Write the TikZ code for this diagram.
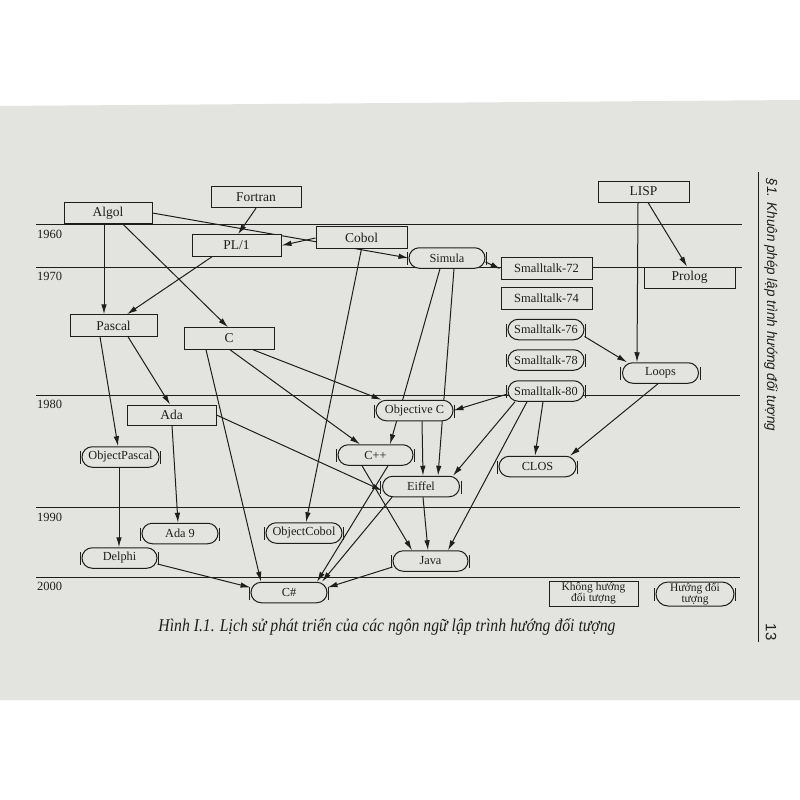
\documentclass[tikz,border=0pt]{standalone}
\usepackage{fontspec}
\setmainfont{Liberation Serif}
\newfontfamily\hsans{Liberation Sans}
\usepackage{graphicx}
\usetikzlibrary{shapes.misc,arrows.meta}
\definecolor{paper}{RGB}{227,227,224}
\definecolor{ink}{RGB}{30,30,30}
\pgfdeclarelayer{bg}\pgfdeclarelayer{edges}\pgfsetlayers{bg,edges,main}
\begin{document}
\begin{tikzpicture}[x=1pt,y=-1pt,
  rbox/.style={draw=ink, fill=paper, line width=1pt, minimum width=90pt, minimum height=21.5pt, inner sep=0pt, font=\fontsize{13.5}{15}\selectfont, text=ink},
  sbox/.style={rbox, font=\fontsize{12.5}{14}\selectfont},
  obox/.style={draw=ink, fill=paper, line width=1pt, rounded rectangle, minimum width=76pt, minimum height=20.5pt, inner sep=0pt, font=\fontsize{12.3}{14}\selectfont, text=ink},
  edge/.style={draw=ink, line width=1pt, -{Latex[length=10pt,width=5.5pt]}},
  tl/.style={draw=ink, line width=1pt},
  yr/.style={anchor=west, font=\fontsize{12.5}{14}\selectfont, text=ink, inner sep=0pt}]
\useasboundingbox (0,0) rectangle (800,800);
\begin{pgfonlayer}{bg}
  \fill[white] (0,0) rectangle (800,800);
  \fill[paper] (0,106) -- (800,100) -- (800,700) -- (0,700) -- cycle;
\end{pgfonlayer}

% timelines
\begin{pgfonlayer}{edges}
  \coordinate (t1a) at (36,224); \coordinate (t1b) at (742,224);
  \coordinate (t2a) at (36,267); \coordinate (t2b) at (742,267);
  \coordinate (t3a) at (36,395); \coordinate (t3b) at (740,395);
  \coordinate (t4a) at (36,507); \coordinate (t4b) at (740,507);
  \coordinate (t5a) at (36,577); \coordinate (t5b) at (740,577);
  \draw[tl] (t1a) -- (t1b);
  \draw[tl] (t2a) -- (t2b);
  \draw[tl] (t3a) -- (t3b);
  \draw[tl] (t4a) -- (t4b);
  \draw[tl] (t5a) -- (t5b);
\end{pgfonlayer}
\node[yr] (y60) at (37,234) {1960};
\node[yr] (y70) at (37,276) {1970};
\node[yr] (y80) at (37,404) {1980};
\node[yr] (y90) at (37,517) {1990};
\node[yr] (y00) at (37,586) {2000};

% rectangular nodes
\node[rbox, minimum width=88pt] (Algol) at (108,213) {Algol};
\node[rbox] (Fortran) at (256,197) {Fortran};
\node[rbox, minimum width=89pt] (PL1) at (236.5,245.5) {PL/1};
\node[rbox, minimum width=91pt] (Cobol) at (361.5,237.5) {Cobol};
\node[rbox, minimum width=87pt] (Pascal) at (113.5,325.5) {Pascal};
\node[rbox] (C) at (229,338.5) {C};
\node[rbox, minimum width=89pt, minimum height=20pt] (Ada) at (171.5,415) {Ada};
\node[rbox, minimum width=91pt, minimum height=21pt] (LISP) at (643.5,191.5) {LISP};
\node[rbox, minimum width=91pt, minimum height=21pt] (Prolog) at (689.5,277.5) {Prolog};
\node[sbox, minimum width=91pt, minimum height=22pt] (ST72) at (546.5,268) {Smalltalk-72};
\node[sbox, minimum width=91pt, minimum height=22pt] (ST74) at (546.5,298) {Smalltalk-74};

% object-oriented nodes
\node[obox] (Simula) at (447,258) {Simula};
\node[obox] (ST76) at (546,329.5) {Smalltalk-76};
\node[obox] (ST78) at (546,360) {Smalltalk-78};
\node[obox] (ST80) at (546,391) {Smalltalk-80};
\node[obox] (Loops) at (660.5,373) {Loops};
\node[obox, minimum width=77pt] (ObjC) at (414.5,410.5) {Objective C};
\node[obox, minimum width=75pt] (CPP) at (375.5,455) {C++};
\node[obox, minimum width=77pt] (Eiffel) at (421,486.5) {Eiffel};
\node[obox, minimum width=77pt] (CLOS) at (537.5,466.5) {CLOS};
\node[obox, minimum width=77pt] (OPascal) at (120.5,457) {ObjectPascal};
\node[obox] (Ada9) at (180,533.5) {Ada 9};
\node[obox] (OCobol) at (304,533) {ObjectCobol};
\node[obox, minimum width=75pt] (Delphi) at (119.5,558) {Delphi};
\node[obox, minimum width=75pt] (Java) at (430.5,561) {Java};
\node[obox] (CSharp) at (289,592.5) {C\#};

% legend
\node[rbox, minimum width=89pt, minimum height=25pt, align=center, font=\fontsize{11.5}{11}\selectfont] (legR) at (593.5,593.5) {Không hướng\\đối tượng};
\node[obox, minimum width=78pt, minimum height=24pt, align=center, font=\fontsize{11.5}{11}\selectfont] (legO) at (695,594) {Hướng đối\\tượng};

% ticks on object-oriented nodes
\foreach \n in {Simula,ST76,ST78,ST80,Loops,ObjC,CPP,Eiffel,CLOS,OPascal,Ada9,OCobol,Delphi,Java,CSharp,legO}{
  \draw[ink, line width=1pt] ([xshift=-1.2pt,yshift=6pt]\n.west) -- ++(0,13);
  \draw[ink, line width=1pt] ([xshift=1.2pt,yshift=6pt]\n.east) -- ++(0,13);
}

% connectors
\begin{pgfonlayer}{edges}
  \draw[edge] (Fortran.south) -- ([xshift=1.5pt]PL1.north);
  \draw[edge] (Algol.east) -- (Simula.west);
  \draw[edge] ([xshift=-4pt]Algol.south) -- ([xshift=-9.5pt]Pascal.north);
  \draw[edge] ([xshift=15pt]Algol.south) -- ([xshift=-1pt]C.north);
  \draw[edge] ([xshift=-24.5pt]PL1.south) -- ([xshift=13.5pt]Pascal.north);
  \draw[edge] ([yshift=-0.5pt]Cobol.west) -- (PL1.east);
  \draw[edge] (Cobol.south) -- ([xshift=2pt]OCobol.north);
  \draw[edge] ([xshift=-13.5pt]Pascal.south) -- ([xshift=-2.5pt]OPascal.north);
  \draw[edge] ([xshift=14.5pt]Pascal.south) -- ([xshift=-1.5pt]Ada.north);
  \draw[edge] ([xshift=-23pt]C.south) -- ([xshift=-28pt]CSharp.north);
  \draw[edge] ([xshift=1pt]C.south) -- ([xshift=-15.5pt]CPP.north);
  \draw[edge] ([xshift=24pt]C.south) -- ([xshift=-33pt]ObjC.north);
  \draw[edge] ([xshift=-7pt]Simula.south) -- ([xshift=14.5pt]CPP.north);
  \draw[edge] ([xshift=7pt]Simula.south) -- ([xshift=17pt]Eiffel.north);
  \draw[edge] ([xshift=7.5pt]ObjC.south) -- ([xshift=2pt]Eiffel.north);
  \draw[edge] ([yshift=-3pt]ST80.west) -- (ObjC.east);
  \draw[edge] ([xshift=-31pt]ST80.south) -- ([xshift=32pt]Eiffel.north);
  \draw[edge] ([xshift=-19pt]ST80.south) -- ([xshift=17.5pt]Java.north);
  \draw[edge] ([xshift=-3pt]ST80.south) -- ([xshift=-2.5pt]CLOS.north);
  \draw[edge] ([xshift=-2.5pt]Loops.south) -- ([xshift=32.5pt]CLOS.north);
  \draw[edge] ([yshift=-7pt]ST76.east) -- ([xshift=-33.5pt]Loops.north);
  \draw[edge] ([xshift=-5.5pt]LISP.south) -- ([xshift=-23.5pt]Loops.north);
  \draw[edge] ([xshift=4.5pt]LISP.south) -- ([xshift=-2.5pt]Prolog.north);
  \draw[edge] ([yshift=-4pt]Simula.east) -- ([yshift=-1pt]ST72.west);
  \draw[edge] (Ada.east) -- ([yshift=-4pt]Eiffel.west);
  \draw[edge] ([xshift=0.5pt]Ada.south) -- ([xshift=-2pt]Ada9.north);
  \draw[edge] ([xshift=-1.5pt]OPascal.south) -- ([xshift=-0.5pt]Delphi.north);
  \draw[edge] ([yshift=-6pt]Delphi.east) -- ([yshift=5pt]CSharp.west);
  \draw[edge] ([xshift=12.5pt]CPP.south) -- ([xshift=28pt]CSharp.north);
  \draw[edge] ([xshift=-13.5pt]CPP.south) -- ([xshift=-18.5pt]Java.north);
  \draw[edge] ([xshift=-29pt]Eiffel.south) -- ([xshift=33pt]CSharp.north);
  \draw[edge] ([xshift=2pt]Eiffel.south) -- ([xshift=-2.5pt]Java.north);
  \draw[edge] ([yshift=-6pt]Java.west) -- ([yshift=5pt]CSharp.east);
\end{pgfonlayer}

% caption, header, page number
\node[text=ink, inner sep=0pt, font=\fontsize{18}{20}\selectfont\itshape] (cap) at (387,627) {\resizebox{457pt}{\height}{Hình I.1. Lịch sử phát triển của các ngôn ngữ lập trình hướng đối tượng}};
\coordinate (ra) at (758,172); \coordinate (rb) at (758,642);
\draw[ink, line width=0.9pt] (ra) -- (rb);
\node[rotate=-90, text=ink, inner sep=0pt, font=\hsans\itshape\fontsize{14}{16}\selectfont] (head) at (771,305) {\resizebox{252pt}{\height}{§1. Khuôn phép lập trình hướng đối tượng}};
\node[rotate=-90, text=ink, inner sep=0pt, font=\hsans\fontsize{15}{17}\selectfont] (pg) at (771,632) {13};
\end{tikzpicture}
\end{document}
